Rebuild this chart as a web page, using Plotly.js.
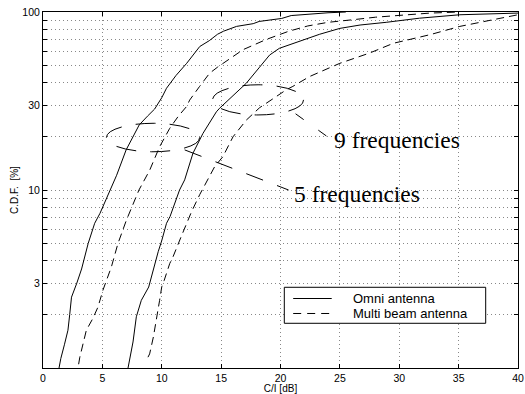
<!DOCTYPE html>
<html>
<head>
<meta charset="utf-8">
<script src="https://cdn.plot.ly/plotly-3.0.1.min.js"></script>
<style>html,body{margin:0;padding:0;background:#fff;}#chart{width:525px;height:394px;}</style>
</head>
<body>
<div id="chart"></div>
<script>
// ---- data (C/I in dB vs C.D.F. in %) ----
const omni5_x = [1.35, 1.5, 1.8, 2.1, 2.25, 2.4, 2.85, 3.25, 3.8, 4.35, 4.8, 5.3, 5.6, 6.2, 7.0, 7.6, 8.1, 8.8, 9.4, 10.0, 10.4, 11.2, 12.1, 13.2, 14.0, 14.7, 15.2, 16.3, 17.7, 18.2, 19.2, 20.1, 20.9, 22.5, 24.0, 25.5];
const omni5_y = [1.0, 1.13, 1.35, 1.63, 2.0, 2.5, 3.0, 3.6, 5.0, 6.5, 7.4, 8.8, 10, 12.1, 16.8, 20, 23.2, 26, 28.5, 33, 37.3, 44, 51.5, 64, 69, 75, 78, 83, 86, 88.5, 90.5, 92, 95.5, 97.5, 99, 100];

const multi5_x = [3.0, 3.1, 3.65, 4.2, 4.63, 5.05, 5.76, 6.31, 7.02, 7.72, 8.08, 8.98, 9.82, 10.67, 11.4, 12.1, 12.35, 13.19, 14.03, 14.7, 15.15, 16.84, 18.8, 20.7, 22.3, 24.0, 26.1, 28.0, 30.0, 32.6, 35.0];
const multi5_y = [1.05, 1.15, 1.63, 1.9, 2.2, 2.74, 3.7, 5.0, 6.76, 8.78, 10, 12.9, 17.5, 22.2, 26, 29.5, 32, 38.2, 45.3, 49, 51.5, 61.4, 70.1, 78, 83.5, 87.5, 90.5, 93.5, 95.7, 98.6, 100];

const omni9_x = [7.16, 7.4, 7.58, 7.86, 8.28, 8.9, 9.26, 9.7, 10.0, 10.4, 10.7, 11.1, 11.5, 11.93, 12.63, 13.47, 14.6, 14.87, 16.0, 17.12, 18.24, 19.08, 19.9, 21.33, 23.3, 25.0, 26.7, 28.9, 31.7, 35.1, 40.0];
const omni9_y = [1.0, 1.2, 1.4, 1.94, 2.4, 2.85, 3.55, 4.5, 5.2, 6.5, 7.1, 8.4, 10, 11.4, 16.1, 20.8, 27.5, 28.8, 34, 39.8, 49, 57.3, 62.5, 67.5, 75, 80.9, 84.5, 87.5, 92.3, 96.5, 98.6];

const multi9_x = [8.84, 8.98, 9.3, 9.55, 9.82, 10.0, 10.2, 10.67, 10.94, 11.65, 12.49, 13.19, 13.89, 14.45, 15.15, 16.0, 17.12, 18.24, 19.2, 20.5, 21.04, 22.45, 24.1, 25.0, 27.5, 29.5, 32.6, 34.0, 35.1, 37.9, 40.0];
const multi9_y = [1.15, 1.2, 1.5, 1.94, 2.4, 2.86, 3.1, 3.86, 4.2, 5.5, 7.5, 9.4, 11.4, 13.5, 15.4, 19.9, 24.7, 29, 32, 36.6, 38.2, 43.4, 48.5, 51.5, 58.8, 66.7, 74.6, 79.4, 83, 90.5, 96.5];

const seriesNames = ['Omni antenna', 'Multi beam antenna'];
const groupLabels = ['9 frequencies', '5 frequencies'];
const xTickVals = [0, 5, 10, 15, 20, 25, 30, 35, 40];
const yTickVals = [2, 3, 4, 5, 6, 7, 8, 9, 10, 20, 30, 40, 50, 60, 70, 80, 90, 100];
const yTickText = ['', '3', '', '', '', '', '', '', '10', '', '30', '', '', '', '', '', '', '100'];

// ---- annotation geometry (data coordinates) ----
const ellipse5 = {x: [5.34, 13.19], y: [16.4, 23.7]};
const ellipse9 = {x: [14.28, 21.94], y: [26.4, 39.0]};
const leader5 = {x: [11.93, 20.68], y: [16.8, 10.0]};
const leader9 = {x: [21.27, 23.96], y: [26.8, 19.9]};
const label9Pos = {x: 24.3, y: 19.0};
const label5Pos = {x: 20.93, y: 9.47};

// ---- legend box geometry (fractions of the plot area) ----
const legBox = {x0: 0.508, x1: 0.932, y0: 0.1256, y1: 0.2267};
const legSample = {x0: 0.5267, x1: 0.6078};
const legRowY = [0.1952, 0.1531];
const legTextX = 0.6505;

const SANS = 'Liberation Sans';
const SERIF = 'Liberation Serif';
const curveDash = '8px,5px';

const traces = [
  {x: omni5_x, y: omni5_y, name: seriesNames[0], showlegend: false,
   mode: 'lines', line: {color: '#000', width: 1}},
  {x: multi5_x, y: multi5_y, name: seriesNames[1], showlegend: false,
   mode: 'lines', line: {color: '#000', width: 1, dash: curveDash}},
  {x: omni9_x, y: omni9_y, name: seriesNames[0], showlegend: false,
   mode: 'lines', line: {color: '#000', width: 1}},
  {x: multi9_x, y: multi9_y, name: seriesNames[1], showlegend: false,
   mode: 'lines', line: {color: '#000', width: 1, dash: curveDash}}
];

const annDash = '20px,14px';
const layout = {
  width: 525, height: 394,
  margin: {l: 43, r: 7, t: 12, b: 26, pad: 0},
  paper_bgcolor: '#fff', plot_bgcolor: '#fff',
  font: {family: SANS, size: 10, color: '#000'},
  showlegend: false,
  xaxis: {
    range: [0, 40], tickmode: 'array', tickvals: xTickVals,
    ticks: 'inside', ticklen: 4, tickcolor: '#000', tickwidth: 1,
    showline: true, linecolor: '#000', linewidth: 1, mirror: 'ticks',
    showgrid: true, gridcolor: '#888', gridwidth: 1, griddash: '1px,3px',
    zeroline: false, tickfont: {family: SANS, size: 10.5},
    title: {text: 'C/I [dB]', font: {family: SANS, size: 10}, standoff: 5}
  },
  yaxis: {
    type: 'log', range: [0, 2], tickmode: 'array', tickvals: yTickVals, ticktext: yTickText,
    ticks: 'inside', ticklen: 4, tickcolor: '#000', tickwidth: 1,
    showline: true, linecolor: '#000', linewidth: 1, mirror: 'ticks',
    showgrid: true, gridcolor: '#888', gridwidth: 1, griddash: '1px,3px',
    zeroline: false, tickfont: {family: SANS, size: 10.5},
    title: {text: 'C.D.F.\u00a0 [%]', font: {family: SANS, size: 10}, standoff: 1}
  },
  shapes: [
    {type: 'circle', xref: 'x', yref: 'y', x0: ellipse5.x[0], x1: ellipse5.x[1], y0: ellipse5.y[0], y1: ellipse5.y[1],
     line: {color: '#000', width: 1, dash: annDash}},
    {type: 'circle', xref: 'x', yref: 'y', x0: ellipse9.x[0], x1: ellipse9.x[1], y0: ellipse9.y[0], y1: ellipse9.y[1],
     line: {color: '#000', width: 1, dash: annDash}},
    {type: 'line', xref: 'x', yref: 'y', x0: leader5.x[0], x1: leader5.x[1], y0: leader5.y[0], y1: leader5.y[1],
     line: {color: '#000', width: 1, dash: '18px,15px'}},
    {type: 'line', xref: 'x', yref: 'y', x0: leader9.x[0], x1: leader9.x[1], y0: leader9.y[0], y1: leader9.y[1],
     line: {color: '#000', width: 1, dash: '10px,18px'}},
    // legend
    {type: 'rect', xref: 'paper', yref: 'paper', x0: legBox.x0, x1: legBox.x1, y0: legBox.y0, y1: legBox.y1,
     fillcolor: '#fff', line: {color: '#000', width: 1}, layer: 'above'},
    {type: 'line', xref: 'paper', yref: 'paper', x0: legSample.x0, x1: legSample.x1, y0: legRowY[0], y1: legRowY[0],
     line: {color: '#000', width: 1}, layer: 'above'},
    {type: 'line', xref: 'paper', yref: 'paper', x0: legSample.x0, x1: legSample.x1, y0: legRowY[1], y1: legRowY[1],
     line: {color: '#000', width: 1, dash: '8px,6px'}, layer: 'above'}
  ],
  annotations: [
    {xref: 'x', yref: 'y', x: label9Pos.x, y: Math.log10(label9Pos.y), text: groupLabels[0], showarrow: false,
     xanchor: 'left', yanchor: 'middle', font: {family: SERIF, size: 23.5, color: '#000'}},
    {xref: 'x', yref: 'y', x: label5Pos.x, y: Math.log10(label5Pos.y), text: groupLabels[1], showarrow: false,
     xanchor: 'left', yanchor: 'middle', font: {family: SERIF, size: 23.5, color: '#000'}},
    {xref: 'paper', yref: 'paper', x: legTextX, y: legRowY[0], text: seriesNames[0], showarrow: false,
     xanchor: 'left', yanchor: 'middle', borderpad: 0, font: {family: SANS, size: 13, color: '#000'}},
    {xref: 'paper', yref: 'paper', x: legTextX, y: legRowY[1], text: seriesNames[1], showarrow: false,
     xanchor: 'left', yanchor: 'middle', borderpad: 0, font: {family: SANS, size: 13, color: '#000'}}
  ]
};

Plotly.newPlot('chart', traces, layout, {displayModeBar: false, staticPlot: true});
</script>
</body>
</html>
